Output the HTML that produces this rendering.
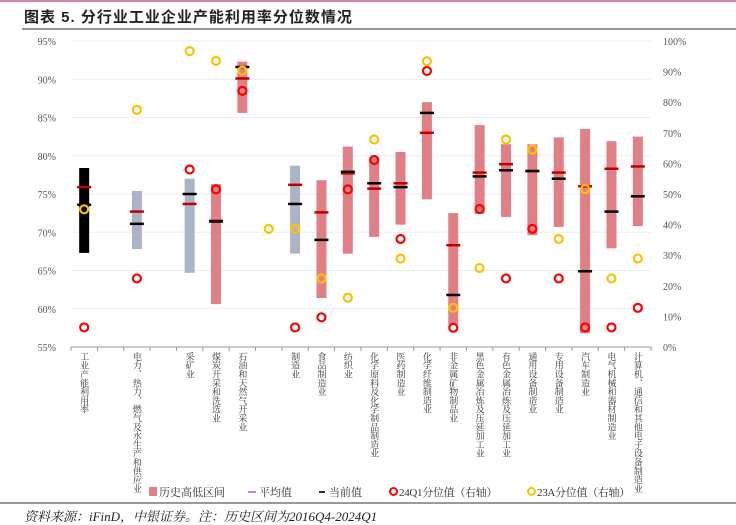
<!DOCTYPE html>
<html><head><meta charset="utf-8"><style>
body{margin:0;background:#fff;width:736px;height:523px;overflow:hidden;position:relative;font-family:"Liberation Serif","Noto Serif CJK SC",serif;}
.t{position:absolute;white-space:nowrap}
</style></head><body>
<div class="t" style="left:0;top:0;width:736px;height:2px;background:#d9889a"></div>
<div class="t" style="left:24px;top:6px;font:bold 15px 'Liberation Sans','Noto Sans CJK SC',sans-serif;color:#222;letter-spacing:1px">图表 5. 分行业工业企业产能利用率分位数情况</div>
<div class="t" style="left:22px;top:28px;width:714px;height:2px;background:#999"></div>
<svg id="c" class="t" style="left:0;top:0" width="736" height="523"></svg>
<div class="t" style="left:0;top:502px;width:736px;height:2px;background:#999"></div>
<div class="t" style="left:24px;top:506px;font:italic 13px 'Liberation Serif','Noto Serif CJK SC',serif;color:#222">资料来源：iFinD，中银证券。注：历史区间为2016Q4-2024Q1</div>
<script>
const cats=["工业产能利用率","","电力、热力、燃气及水生产和供应业","","采矿业","煤炭开采和洗选业","石油和天然气开采业","","制造业","食品制造业","纺织业","化学原料及化学制品制造业","医药制造业","化学纤维制造业","非金属矿物制品业","黑色金属冶炼及压延加工业","有色金属冶炼及压延加工业","通用设备制造业","专用设备制造业","汽车制造业","电气机械和器材制造业","计算机、通信和其他电子设备制造业"];
const highs=[78.4,null,75.4,null,77.0,76.3,92.3,null,78.7,76.8,81.2,79.8,80.5,87.0,72.5,84.0,81.5,81.5,82.4,83.5,81.9,82.5];
const lows=[67.3,null,67.8,null,64.7,60.6,85.6,null,67.2,61.4,67.2,69.4,71.0,74.3,57.9,72.4,72.0,69.6,70.7,56.8,67.9,70.8];
const means=[75.9,null,72.7,null,73.7,71.5,90.1,null,76.2,72.6,77.7,75.7,76.4,83.0,68.3,77.8,78.9,78.0,77.8,76.0,78.3,78.6];
const currents=[73.6,null,71.1,null,75.0,71.4,91.6,null,73.7,69.0,77.9,76.4,75.9,85.6,61.8,77.3,78.1,78.0,77.0,64.9,72.7,74.7];
const q24=[6.4,null,22.4,null,58.0,51.5,83.7,null,6.4,9.7,51.5,61.1,35.3,90.2,6.3,45.1,22.4,38.6,22.4,6.4,6.4,12.8];
const a23=[45.0,null,77.5,null,96.7,93.5,90.3,38.6,38.6,22.4,16.1,67.8,28.9,93.4,12.8,25.8,67.8,64.5,35.3,51.6,22.4,28.9];
const barColors=["#000","","#aab4c7","","#aab4c7","#e07f85","#e07f85","","#aab4c7","#e07f85","#e07f85","#e07f85","#e07f85","#e07f85","#e07f85","#e07f85","#e07f85","#e07f85","#e07f85","#e07f85","#e07f85","#e07f85"];
const leftTicks=[55,60,65,70,75,80,85,90,95];
const rightTicks=[0,10,20,30,40,50,60,70,80,90,100];
const NS="http://www.w3.org/2000/svg";
const svg=document.getElementById('c');
const X0=71,X1=651,Y0=41,Y1=347;
const sw=(X1-X0)/cats.length;
const xc=i=>X0+sw*(i+0.5);
const yl=v=>Y1-(v-55)/40*(Y1-Y0);
const yr=v=>Y1-v/100*(Y1-Y0);
function mk(tag,a){const e=document.createElementNS(NS,tag);for(const k in a)e.setAttribute(k,a[k]);svg.appendChild(e);return e;}
leftTicks.forEach(v=>{
 if(v>55){const g=mk('line',{x1:X0,x2:X1,y1:yl(v),y2:yl(v),stroke:'#eceef3','stroke-width':1});
 
 }
 const t=mk('text',{x:56,y:yl(v)+4,'text-anchor':'end','font-size':10,fill:'#555'});t.textContent=v+'%';
 
 
});
rightTicks.forEach(v=>{const t=mk('text',{x:663,y:yr(v)+4,'font-size':10,fill:'#555'});t.textContent=v+'%';
 
 });
const ax=mk('line',{x1:X0,x2:X1,y1:Y1,y2:Y1,stroke:'#999','stroke-width':1});


for(let i=0;i<=cats.length;i++){const tk=mk('line',{x1:X0+sw*i,x2:X0+sw*i,y1:Y1,y2:Y1+4,stroke:'#999'});
 
 }
cats.forEach((c,i)=>{
 const x=xc(i);
 if(highs[i]!=null){const b=mk('rect',{x:x-5,y:yl(highs[i]),width:10,height:yl(lows[i])-yl(highs[i]),fill:barColors[i]});
  
  }
 if(means[i]!=null){const m=mk('line',{x1:x-7,x2:x+7,y1:yl(means[i]),y2:yl(means[i]),stroke:'#c00000','stroke-width':2.5});
  
  }
 if(currents[i]!=null){const m=mk('line',{x1:x-7,x2:x+7,y1:yl(currents[i]),y2:yl(currents[i]),stroke:'#000','stroke-width':2.5});
  
  }
 if(q24[i]!=null){const o=mk('circle',{cx:x,cy:yr(q24[i]),r:4,fill:'none',stroke:'#ff0000','stroke-width':2.2});
  
  }
 if(a23[i]!=null){const o=mk('circle',{cx:x,cy:yr(a23[i]),r:4,fill:'none',stroke:'#ffc000','stroke-width':2.2});
  
  }
 if(c){const d=document.createElement('div');d.className='t';d.textContent=c;
  
  
  d.style.cssText=`left:${x-5}px;top:352px;writing-mode:vertical-rl;font-size:9px;line-height:10px;color:#333;letter-spacing:-0.2px;width:10px;height:160px;white-space:nowrap`;
  document.body.appendChild(d);}
});
</script>
<div class="t" style="left:0;top:484px;font-size:11px;color:#333;width:736px;height:16px">
 <span class="t" style="left:149px;top:3px;width:8px;height:9px;background:#e07f85"></span>
 <span class="t" style="left:159px;top:0">历史高低区间</span>
 <span class="t" style="left:248px;top:7px;width:8px;height:2px;background:#e07f85"></span>
 <span class="t" style="left:259px;top:0">平均值</span>
 <span class="t" style="left:319px;top:7px;width:6px;height:2px;background:#333"></span>
 <span class="t" style="left:329px;top:0">当前值</span>
 <span class="t" style="left:389px;top:3px;width:5px;height:5px;border:2px solid #f00;border-radius:50%"></span>
 <span class="t" style="left:399px;top:0;letter-spacing:-0.3px">24Q1分位值（右轴）</span>
 <span class="t" style="left:527px;top:3px;width:5px;height:5px;border:2px solid #ffc000;border-radius:50%"></span>
 <span class="t" style="left:537px;top:0;letter-spacing:-0.3px">23A分位值（右轴）</span>
</div>
</body></html>
